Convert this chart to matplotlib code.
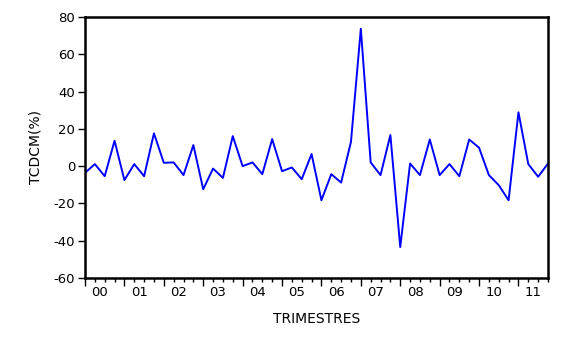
import numpy as np
import matplotlib
matplotlib.use("Agg")
import matplotlib.pyplot as plt

# quarterly values 2000Q1 .. 2011Q4
tcdcm = [-3.6, 1.1, -5.4, 13.6, -7.5, 1.1, -5.4, 17.6,
         1.8, 2.0, -4.8, 11.3, -12.4, -1.3, -6.3, 16.1,
         0.0, 2.0, -4.3, 14.5, -2.7, -0.7, -7.0, 6.5,
         -18.3, -4.3, -8.8, 13.1, 73.7, 2.0, -4.8, 16.7,
         -43.4, 1.4, -4.8, 14.3, -4.8, 1.1, -5.4, 14.3,
         9.9, -4.8, -10.2, -18.3, 28.9, 1.1, -5.7, 1.4]
years = ["00", "01", "02", "03", "04", "05", "06", "07", "08", "09", "10", "11"]
yticks = [-60, -40, -20, 0, 20, 40, 60, 80]

plt.rcParams['font.family'] = ['DejaVu Sans']

fig = plt.figure(figsize=(5.83, 3.44), dpi=100)
ax = fig.add_axes([85/583, 1 - 278/344, 463/583, 261/344])

x = np.arange(len(tcdcm))
ax.plot(x, tcdcm, color="#0000ff", lw=1.4)

ax.set_xlim(0, len(tcdcm) - 1)
ax.set_ylim(-60, 80)
ax.set_yticks(yticks)
ax.set_yticklabels([str(v) for v in yticks], fontsize=9.5)

# ticks at each quarter, longer ones at year start
ax.set_xticks(np.arange(0, len(tcdcm), 4))
ax.set_xticklabels([])
ax.set_xticks(x, minor=True)
ax.tick_params(axis="x", which="major", length=6, width=1, direction="out")
ax.tick_params(axis="x", which="minor", length=3, width=1, direction="out")

for s in ax.spines.values():
    s.set_linewidth(1.8)
ax.tick_params(axis="y", length=5, width=1, labelsize=9.5, pad=2)

# year labels centred in each year
for i, yr in enumerate(years):
    ax.text(4 * i + 1.5, -0.03, yr, transform=ax.get_xaxis_transform(),
            ha="center", va="top", fontsize=9.5)

ax.set_xlabel("TRIMESTRES", fontsize=10, labelpad=15)
ax.set_ylabel("TCDCM(%)", fontsize=10, labelpad=8)

fig.savefig("out.png", dpi=100)
